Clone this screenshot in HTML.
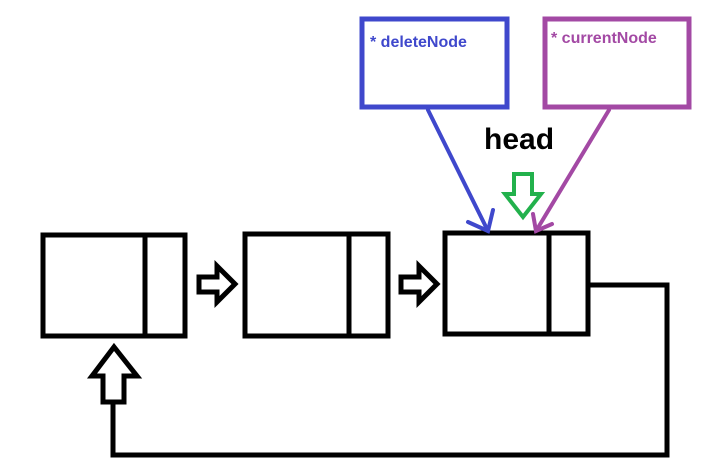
<!DOCTYPE html>
<html><head><style>
html,body{margin:0;padding:0;background:#fff;width:728px;height:475px;overflow:hidden}
svg{display:block}
</style></head><body>
<svg width="728" height="475" viewBox="0 0 728 475" xmlns="http://www.w3.org/2000/svg">
<g fill="none" stroke="#000" stroke-width="5" stroke-linejoin="miter">
<rect x="43" y="235" width="142" height="101"/>
<line x1="145" y1="235" x2="145" y2="336"/>
<rect x="245" y="234" width="143" height="102"/>
<line x1="349" y1="234" x2="349" y2="336"/>
<rect x="445" y="233" width="143" height="101"/>
<line x1="549" y1="233" x2="549" y2="334"/>
<polyline points="588,285 667,285 667,455 113,455 113,402"/>
<polygon points="199,277 217,277 217,266 235,284 217,302 217,292 199,292"/>
<polygon points="401,277 419,277 419,266 437,284 419,302 419,292 401,292"/>
<polygon points="103,402 103,376 92,376 114,347 137,376 124,376 124,402"/>
</g>
<polygon points="514,174 532,174 532,194 541,194 523,217 505,194 514,194" fill="none" stroke="#22b14c" stroke-width="4"/>
<rect x="362" y="19" width="145" height="88" fill="none" stroke="#3f48cc" stroke-width="5"/>
<rect x="545" y="19" width="144" height="88" fill="none" stroke="#a349a4" stroke-width="5"/>
<g stroke="#3f48cc" stroke-width="4" fill="none" stroke-linecap="round">
<line x1="428" y1="110" x2="488" y2="231"/>
<polyline points="468,222 488,231 493,210"/>
</g>
<g stroke="#a349a4" stroke-width="4" fill="none" stroke-linecap="round">
<line x1="609" y1="110" x2="536" y2="231"/>
<polyline points="533,214 536,231 552,224"/>
</g>
<text x="370" y="47" font-family="Liberation Sans, sans-serif" font-size="16" font-weight="bold" fill="#3f48cc">* deleteNode</text>
<text x="551" y="43" font-family="Liberation Sans, sans-serif" font-size="16" font-weight="bold" fill="#a349a4">* currentNode</text>
<text x="484" y="149" font-family="Liberation Sans, sans-serif" font-size="30" font-weight="bold" fill="#000">head</text>
</svg>
</body></html>
